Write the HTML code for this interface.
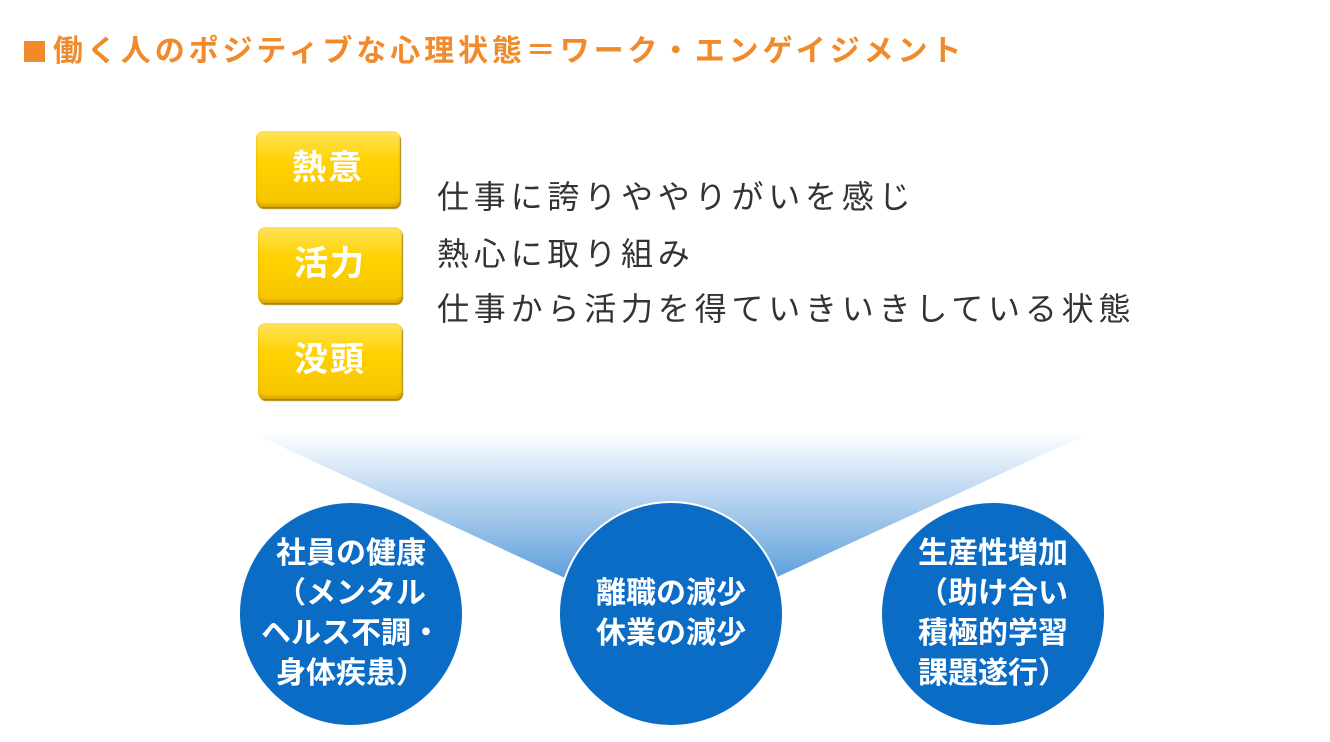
<!DOCTYPE html>
<html><head><meta charset="utf-8"><style>
body{margin:0;width:1330px;height:742px;background:#fff;position:relative;overflow:hidden;font-family:"Liberation Sans","Noto Sans CJK JP",sans-serif}
.t{position:absolute;left:24px;top:26px;font-size:30px;font-weight:bold;color:#f08a2a;letter-spacing:3.9px;white-space:nowrap}
.t i{display:inline-block;width:21px;height:21px;background:#f08a2a;margin-right:8px;vertical-align:-1px}
.b{position:absolute;width:144px;height:76px;border-radius:7px;background:linear-gradient(#ffe35a,#ffd200 40%,#f5c400);box-shadow:1px 2px 1px #a88400,inset 0 -3px 2px #d9a800;color:#fff;font-weight:bold;font-size:34px;text-align:center;line-height:74px;letter-spacing:2px}
.r{position:absolute;left:437px;font-size:32px;color:#333;letter-spacing:4.8px;white-space:nowrap}
.c{position:absolute;width:222px;height:222px;border-radius:50%;background:#0a6cc4;border:2px solid #fff;color:#fff;font-weight:bold;font-size:30px;line-height:40px;display:flex;align-items:center;justify-content:center;text-align:center;top:501px;white-space:nowrap}
</style></head><body>
<div class="t"><i></i>働く人のポジティブな心理状態＝ワーク・エンゲイジメント</div>
<div class="b" style="left:256px;top:131px">熱意</div>
<div class="b" style="left:258px;top:227px">活力</div>
<div class="b" style="left:258px;top:323px">没頭</div>
<div class="r" style="top:172px">仕事に誇りややりがいを感じ</div>
<div class="r" style="top:229px">熱心に取り組み</div>
<div class="r" style="top:284px">仕事から活力を得ていきいきしている状態</div>
<svg style="position:absolute;left:0;top:0" width="1330" height="742"><defs><linearGradient id="g" x1="0" y1="0" x2="0" y2="1"><stop offset="0" stop-color="#fff"/><stop offset="1" stop-color="#5f9fdc"/></linearGradient></defs>
<polygon points="250,432 1092,432 775,578 565,578" fill="url(#g)"/></svg>
<div class="c" style="left:238px"><div>社員の健康<br>（メンタル<br>ヘルス不調・<br>身体疾患）</div></div>
<div class="c" style="left:558px"><div>離職の減少<br>休業の減少</div></div>
<div class="c" style="left:880px"><div>生産性増加<br>（助け合い<br>積極的学習<br>課題遂行）</div></div>
</body></html>
